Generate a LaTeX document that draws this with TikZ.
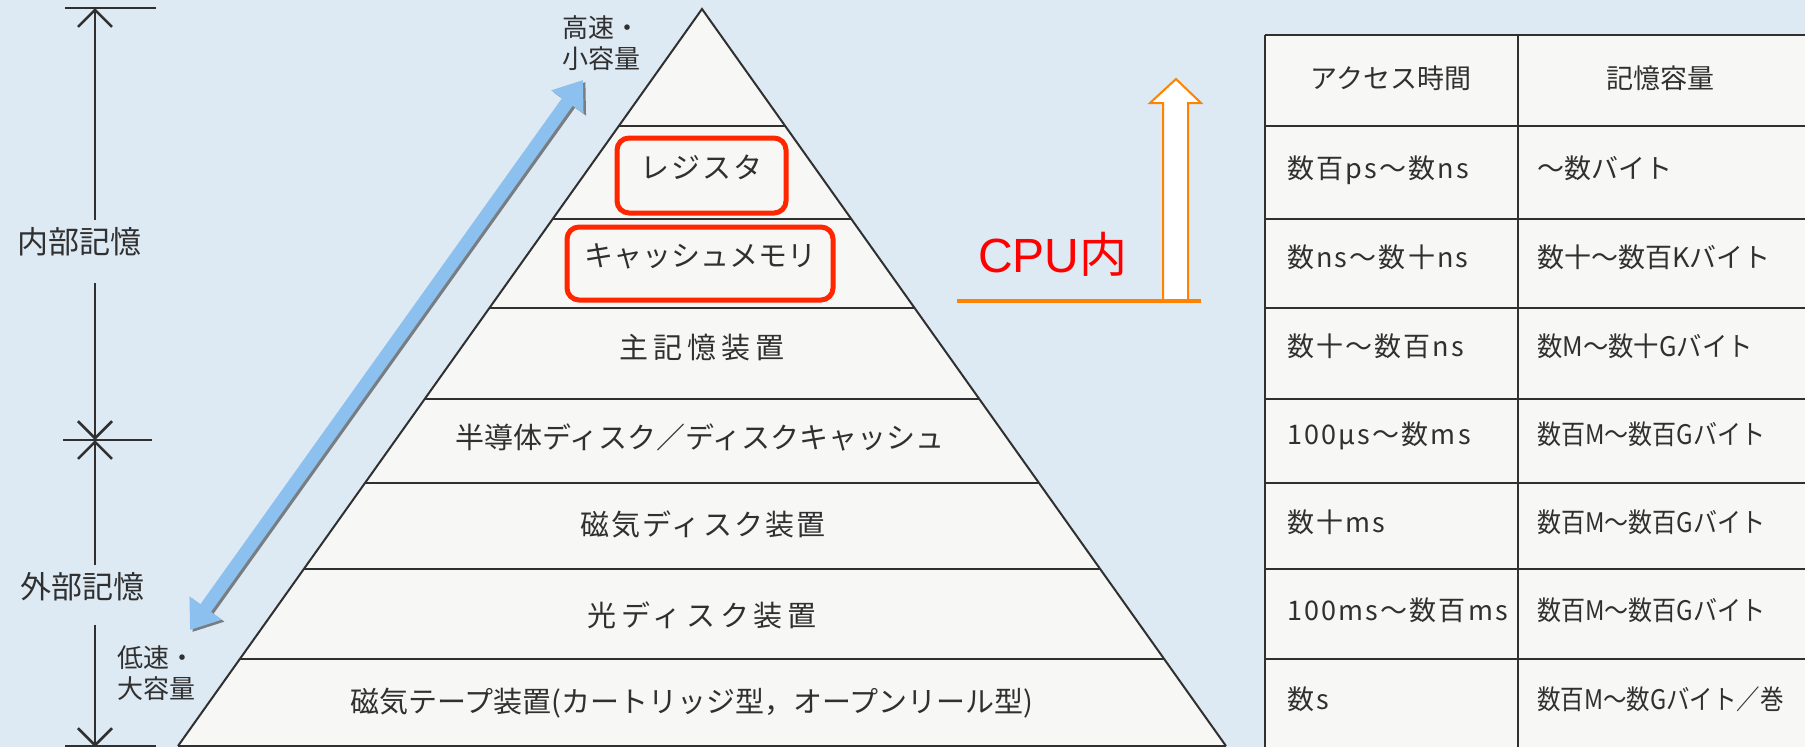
\documentclass[tikz,border=0pt]{standalone}
\usepackage{graphicx}
\usepackage{fontspec}
\setmainfont{Noto Sans CJK JP}
\newfontfamily\latinsans{Liberation Sans}
\newfontfamily\jpfont{Noto Sans CJK JP}
\usetikzlibrary{arrows.meta}
\definecolor{bgblue}{RGB}{221,234,244}
\definecolor{ink}{RGB}{48,48,48}
\definecolor{boxred}{RGB}{255,38,0}
\definecolor{cpured}{RGB}{255,0,0}
\definecolor{orng}{RGB}{255,130,0}
\definecolor{arrblue}{RGB}{140,192,238}
\definecolor{shadowgray}{RGB}{120,125,130}
\definecolor{paper}{RGB}{247,248,246}
\tikzset{
  pyrtext/.style={text=ink, inner sep=0pt, text height=0.8em, text depth=0.12em, font=\fontsize{29}{32}\selectfont},
  tabtext/.style={text=ink, inner sep=0pt, text height=0.8em, text depth=0.12em, font=\fontsize{27}{30}\selectfont},
  sidetext/.style={text=ink, inner sep=0pt, text height=0.8em, text depth=0.12em, font=\fontsize{31}{34}\selectfont},
  smalltext/.style={text=ink, inner sep=0pt, align=left, font=\fontsize{26}{31}\selectfont},
  redbox/.style={draw=boxred, line width=5pt, rounded corners=12pt},
  rule/.style={draw=ink, line width=2.5pt},
  dimline/.style={draw=ink, line width=2.6pt},
  dimtip/.style={-{Straight Barb[length=17pt,width=34pt]}},
  bluearrow/.style={line width=13pt, {Triangle[length=27pt,width=38pt]}-{Triangle[length=27pt,width=38pt]}},
}
\newcommand{\narrowtext}[2]{\scalebox{#1}[1]{#2}}
\begin{document}
\begin{tikzpicture}[x=1pt,y=-1pt]
\useasboundingbox (0,0) rectangle (1805,747);
\fill[bgblue] (0,0) rectangle (1805,747);
\begin{scope}
\clip (0,0) rectangle (1805,747);

% ---------- pyramid ----------
\coordinate (apex) at (702,9);
\coordinate (baseL) at (178,746);
\coordinate (baseR) at (1226,746);
\fill[paper] (apex) -- (baseL) -- (baseR) -- cycle;
\begin{scope}
  \clip (apex) -- (baseL) -- (baseR) -- cycle;
  \foreach \y in {126,219,308,399,483,569,659}
    \draw[rule] (0,\y) -- (1805,\y);
\end{scope}
\draw[ink, line width=2pt, line join=miter] (baseL) -- (apex) -- (baseR);
\draw[rule] (baseL) -- (baseR);

\node[redbox, pyrtext, minimum width=169pt, minimum height=75pt] (reg) at (701.5,175.5) {\addfontfeatures{LetterSpace=7}レジスタ};
\node[redbox, pyrtext, minimum width=266pt, minimum height=73pt] (cache) at (700,263.5) {キャッシュメモリ};
\node[pyrtext] (mainmem) at (702,355) {\addfontfeatures{LetterSpace=17}主記憶装置};
\node[pyrtext] (ssd) at (700,445) {半導体ディスク／ディスクキャッシュ};
\node[pyrtext] (hdd) at (703,532) {\addfontfeatures{LetterSpace=7}磁気ディスク装置};
\node[pyrtext] (odd) at (702,623) {\addfontfeatures{LetterSpace=16}光ディスク装置};
\node[pyrtext] (tape) at (692,709) {磁気テープ装置(カートリッジ型，オープンリール型)};

% ---------- speed labels and blue arrow ----------
\node[smalltext, anchor=west] (fast) at (562,43) {高速・\\小容量};
\node[smalltext, anchor=west] (slow) at (117,673) {低速・\\大容量};
\coordinate (blueLow) at (190,630);
\coordinate (blueHigh) at (583,80);
\draw[shadowgray, bluearrow] ([xshift=2.5pt,yshift=-2pt]blueLow) -- ([xshift=2.5pt,yshift=-2pt]blueHigh);
\draw[arrblue, bluearrow] (blueLow) -- (blueHigh);

% ---------- dimension line ----------
\node[sidetext] (inner) at (79,250) {内部記憶};
\node[sidetext] (outer) at (82,595) {外部記憶};
\coordinate (dtop) at (95,8);
\coordinate (dmid) at (95,440);
\coordinate (dbot) at (95,747);
\coordinate (g1) at (95,220);
\coordinate (g2) at (95,283);
\coordinate (g3) at (95,565);
\coordinate (g4) at (95,625);
\draw[dimline] (65,8) -- (156,8);
\draw[dimline] (63,440) -- (152,440);
\draw[dimline] (65,746) -- (156,746);
\draw[dimline, dimtip] (g1) -- (dtop);
\draw[dimline, dimtip] (g2) -- (dmid);
\draw[dimline, dimtip] (g3) -- (dmid);
\draw[dimline, dimtip] (g4) -- (dbot);

% ---------- CPU arrow ----------
\filldraw[fill=white, draw=orng, line width=2pt, line join=miter]
  (1163,299) -- (1163,103) -- (1150,103) -- (1176,79) -- (1201,103) -- (1188,103) -- (1188,299);
\coordinate (cpuL) at (957,301);
\coordinate (cpuR) at (1201,301);
\draw[orng, line width=4pt] (cpuL) -- (cpuR);
\node[text=cpured, font=\latinsans\fontsize{48}{50}\selectfont, inner sep=0pt, anchor=base west] (cpu) at (978,272) {CPU{\jpfont 内}};

% ---------- table ----------
\fill[paper] (1265,35) rectangle (1810,750);
\foreach \y in {35,126,219,308,399,483,569,659}
  \draw[rule] (1265,\y) -- (1810,\y);
\draw[rule] (1265,35) -- (1265,750);
\draw[rule] (1518,35) -- (1518,750);

\node[tabtext] (h1) at (1391,85) {アクセス時間};
\node[tabtext] (h2) at (1660,85) {記憶容量};
\begin{scope}[every node/.style={tabtext, anchor=west}]
\node (a1) at (1287,175) {\addfontfeatures{LetterSpace=8}数百ps～数ns};
\node (a2) at (1287,264) {\addfontfeatures{LetterSpace=8}数ns～数十ns};
\node (a3) at (1287,353) {\addfontfeatures{LetterSpace=8}数十～数百ns};
\node (a4) at (1287,441) {\addfontfeatures{LetterSpace=8}100μs～数ms};
\node (a5) at (1287,529) {\addfontfeatures{LetterSpace=8}数十ms};
\node (a6) at (1287,617) {\addfontfeatures{LetterSpace=8}100ms～数百ms};
\node (a7) at (1287,706) {\addfontfeatures{LetterSpace=8}数s};
\node (b1) at (1537,175) {～数バイト};
\node (b2) at (1537,264) {数十～数百Kバイト};
\node (b3) at (1537,353) {\narrowtext{0.94}{数M～数十Gバイト}};
\node (b4) at (1537,441) {\narrowtext{0.89}{数百M～数百Gバイト}};
\node (b5) at (1537,529) {\narrowtext{0.89}{数百M～数百Gバイト}};
\node (b6) at (1537,617) {\narrowtext{0.89}{数百M～数百Gバイト}};
\node (b7) at (1537,706) {\narrowtext{0.87}{数百M～数Gバイト／巻}};
\end{scope}
\end{scope}
\end{tikzpicture}
\end{document}
